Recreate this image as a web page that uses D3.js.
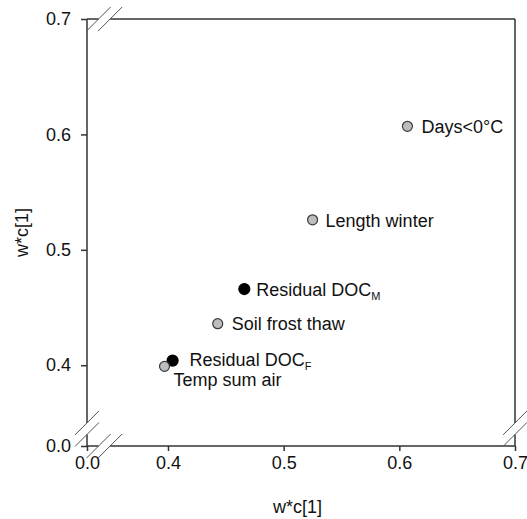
<!DOCTYPE html>
<html>
<head>
<meta charset="utf-8">
<script src="https://cdn.jsdelivr.net/npm/d3@7"></script>
<style>
  body { margin: 0; background: #fff; }
  svg text { font-family: "Liberation Sans", Arial, sans-serif; fill: #111; }
</style>
</head>
<body>
<div id="chart"></div>
<script>
// loadings
const labels = ["Days<0°C", "Length winter", "Residual DOC", "Soil frost thaw", "Residual DOC", "Temp sum air"]
const subs = ["", "", "M", "", "F", ""]
const xValues = [0.607, 0.525, 0.466, 0.443, 0.404, 0.397]
const yValues = [0.607, 0.526, 0.466, 0.436, 0.404, 0.399]
const groups = ["climate", "climate", "doc", "climate", "doc", "climate"]
const xTicks = [0.4, 0.5, 0.6, 0.7]
const yTicks = [0.4, 0.5, 0.6, 0.7]
const axisTitle = "w*c[1]"

const width = 527, height = 519
const margin = { left: 87, top: 19, right: 12, bottom: 73 }
const innerW = width - margin.left - margin.right
const innerH = height - margin.top - margin.bottom
const fontSize = 18

// axis break: left/bottom edge shows 0.0, gap between brk[0] and brk[1]
const domainMin = 0.33
const brk = [0.340, 0.350]

const svg = d3.select("#chart").append("svg")
    .attr("width", width)
    .attr("height", height)

const g = svg.append("g")
    .attr("transform", `translate(${margin.left},${margin.top})`)

const x = d3.scaleLinear().domain([domainMin, 0.7]).range([0, innerW])
const y = d3.scaleLinear().domain([domainMin, 0.7]).range([innerH, 0])

const axisColor = "#333"

/** draws the frame, leaving a gap at the break */
function frameLine(x1, y1, x2, y2) {
    g.append("line")
        .attr("x1", x1).attr("y1", y1).attr("x2", x2).attr("y2", y2)
        .attr("stroke", axisColor)
        .attr("stroke-width", 1.5)
}
// bottom & top
frameLine(x(domainMin), innerH, x(brk[0]), innerH)
frameLine(x(brk[1]), innerH, innerW, innerH)
frameLine(x(domainMin), 0, x(brk[0]), 0)
frameLine(x(brk[1]), 0, innerW, 0)
// left & right
frameLine(0, y(domainMin), 0, y(brk[0]))
frameLine(0, y(brk[1]), 0, 0)
frameLine(innerW, y(domainMin), innerW, y(brk[0]))
frameLine(innerW, y(brk[1]), innerW, 0)

// break marks
const half = 12
function breakMark(cx, cy) {
    g.append("line")
        .attr("x1", cx - half).attr("y1", cy + half)
        .attr("x2", cx + half).attr("y2", cy - half)
        .attr("stroke", "#555")
        .attr("stroke-width", 1)
}
for (const b of brk) {
    breakMark(x(b), innerH)
    breakMark(x(b), 0)
    breakMark(0, y(b))
    breakMark(innerW, y(b))
}

// x axis
const xAxis = d3.axisBottom(x).tickValues([domainMin, ...xTicks])
    .tickSize(5).tickPadding(5)
    .tickFormat(d => d === domainMin ? "0.0" : d3.format(".1f")(d))
const xAx = g.append("g")
    .attr("transform", `translate(0,${innerH})`)
    .call(xAxis)
xAx.select(".domain").remove()
xAx.selectAll("line").attr("stroke", axisColor).attr("stroke-width", 1.5)
xAx.selectAll("text").attr("font-size", fontSize).style("font-family", "Liberation Sans, Arial, sans-serif").attr("fill", "#111")

// y axis
const yAxis = d3.axisLeft(y).tickValues([domainMin, ...yTicks])
    .tickSize(6).tickPadding(10)
    .tickFormat(d => d === domainMin ? "0.0" : d3.format(".1f")(d))
const yAx = g.append("g").call(yAxis)
yAx.select(".domain").remove()
yAx.selectAll("line").attr("stroke", axisColor).attr("stroke-width", 1.5)
yAx.selectAll("text").attr("font-size", fontSize).style("font-family", "Liberation Sans, Arial, sans-serif").attr("fill", "#111")

// axis titles
svg.append("text")
    .attr("x", margin.left + x(0.512))
    .attr("y", 513)
    .attr("text-anchor", "middle")
    .attr("font-size", fontSize)
    .text(axisTitle)

svg.append("text")
    .attr("transform", `translate(28,${margin.top + y(0.515)}) rotate(-90)`)
    .attr("text-anchor", "middle")
    .attr("font-size", fontSize)
    .text(axisTitle)

// points
const data = labels.map((l, i) => ({ label: l, sub: subs[i], x: xValues[i], y: yValues[i], group: groups[i] }))

g.append("g")
    .selectAll("circle")
    .data(data)
    .enter()
    .append("circle")
    .attr("cx", d => x(d.x))
    .attr("cy", d => y(d.y))
    .attr("r", d => d.group === "doc" ? 5.5 : 5)
    .attr("fill", d => d.group === "doc" ? "#000" : "#bdbdbd")
    .attr("stroke", d => d.group === "doc" ? "#000" : "#3a3a3a")
    .attr("stroke-width", 1.2)

// labels: offsets beside each point (Temp sum air sits below)
const labelDx = [14, 13, 12, 14, 17, 9]
const labelDy = [7, 7, 7, 6, 5, 20]
const lab = g.append("g")
    .selectAll("text")
    .data(data)
    .enter()
    .append("text")
    .attr("x", (d, i) => x(d.x) + labelDx[i])
    .attr("y", (d, i) => y(d.y) + labelDy[i])
    .attr("font-size", fontSize)
lab.append("tspan").text(d => d.label)
lab.filter(d => d.sub !== "")
    .append("tspan")
    .attr("font-size", 11)
    .attr("dy", 4)
    .text(d => d.sub)
</script>
</body>
</html>
